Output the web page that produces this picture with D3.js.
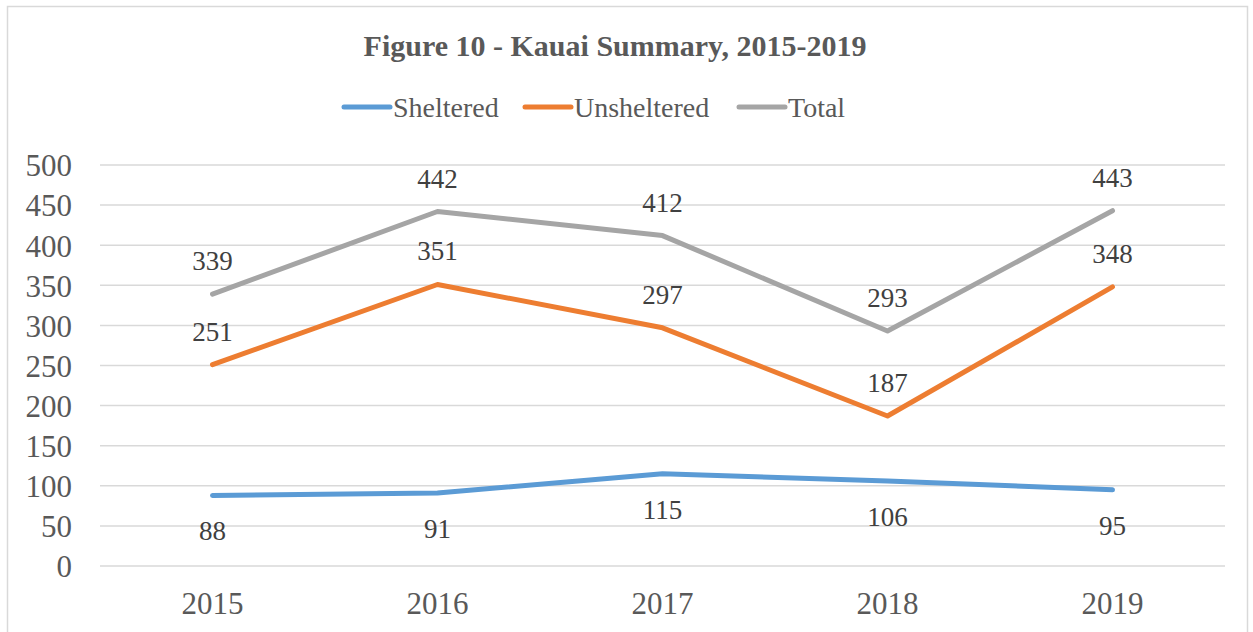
<!DOCTYPE html>
<html>
<head>
<meta charset="utf-8">
<script src="https://cdn.jsdelivr.net/npm/d3@7"></script>
<style>
  body { margin: 0; background: #fff; }
  svg { display: block; font-family: "Liberation Serif", "Times New Roman", serif; }
</style>
</head>
<body>
<div class="container"></div>
<script>
// Data
const years = ["2015", "2016", "2017", "2018", "2019"];
const sheltered = [88, 91, 115, 106, 95];
const unsheltered = [251, 351, 297, 187, 348];
const total = [339, 442, 412, 293, 443];
const yTicks = [0, 50, 100, 150, 200, 250, 300, 350, 400, 450, 500];

const series = [
  { name: "Sheltered", values: sheltered, color: "#5B9BD5", labelPos: "below" },
  { name: "Unsheltered", values: unsheltered, color: "#ED7D31", labelPos: "above" },
  { name: "Total", values: total, color: "#A5A5A5", labelPos: "above" }
];

// Dimensions
const w = 1253;
const h = 632;
const plot = { left: 100, right: 1225, top: 165, bottom: 566 };

const svg = d3.select(".container")
  .append("svg")
  .attr("width", w)
  .attr("height", h);

// Chart frame
svg.append("rect")
  .attr("x", 7.5)
  .attr("y", 6.5)
  .attr("width", 1240)
  .attr("height", 640)
  .attr("fill", "#fff")
  .attr("stroke", "#D9D9D9")
  .attr("stroke-width", 1.5);

// Scales
const xScale = d3.scaleBand()
  .domain(years)
  .range([plot.left, plot.right]);

const yScale = d3.scaleLinear()
  .domain([0, 500])
  .range([plot.bottom, plot.top]);

// Gridlines
svg.append("g")
  .selectAll("line")
  .data(yTicks)
  .enter()
  .append("line")
  .attr("x1", plot.left)
  .attr("x2", plot.right)
  .attr("y1", d => yScale(d))
  .attr("y2", d => yScale(d))
  .attr("stroke", "#D9D9D9")
  .attr("stroke-width", 1.5);

// Y axis
const yAxis = d3.axisLeft(yScale).tickValues(yTicks).tickSize(0).tickPadding(0);
const gy = svg.append("g")
  .attr("transform", `translate(72,0)`)
  .call(yAxis);
gy.select(".domain").remove();
gy.selectAll("text")
  .attr("fill", "#595959")
  .style("font-size", "31px")
  .style("font-family", "Liberation Serif")
  .attr("dy", "0.35em");

// X axis
const xAxis = d3.axisBottom(xScale).tickSize(0).tickPadding(0);
const gx = svg.append("g")
  .attr("transform", `translate(0,${plot.bottom})`)
  .call(xAxis);
gx.select(".domain").remove();
gx.selectAll("text")
  .attr("fill", "#595959")
  .attr("y", 48)
  .attr("dy", 0)
  .style("font-size", "31px")
  .style("font-family", "Liberation Serif");

// Lines
const line = d3.line()
  .x((d, i) => xScale(years[i]) + xScale.bandwidth() / 2)
  .y(d => yScale(d));

svg.append("g")
  .selectAll("path")
  .data(series)
  .enter()
  .append("path")
  .attr("d", d => line(d.values))
  .attr("fill", "none")
  .attr("stroke", d => d.color)
  .attr("stroke-width", 5)
  .attr("stroke-linecap", "round")
  .attr("stroke-linejoin", "round");

// Data labels
series.forEach(s => {
  svg.append("g")
    .selectAll("text")
    .data(s.values)
    .enter()
    .append("text")
    .attr("x", (d, i) => xScale(years[i]) + xScale.bandwidth() / 2)
    .attr("y", d => s.labelPos === "above" ? yScale(d) - 24 : yScale(d) + 45)
    .attr("text-anchor", "middle")
    .attr("fill", "#404040")
    .style("font-size", "27px")
    .text(d => d);
});

// Title
svg.append("text")
  .attr("x", 615)
  .attr("y", 56)
  .attr("text-anchor", "middle")
  .attr("fill", "#595959")
  .style("font-size", "30px")
  .style("font-weight", "bold")
  .text("Figure 10 - Kauai Summary, 2015-2019");

// Legend
const legendX = [344, 525, 739];
const legend = svg.append("g")
  .selectAll("g")
  .data(series)
  .enter()
  .append("g")
  .attr("transform", (d, i) => `translate(${legendX[i]},107)`);

legend.append("line")
  .attr("x1", 0)
  .attr("x2", 46)
  .attr("stroke", d => d.color)
  .attr("stroke-width", 5)
  .attr("stroke-linecap", "round");

legend.append("text")
  .attr("x", 49)
  .attr("y", 10)
  .attr("fill", "#595959")
  .style("font-size", "28px")
  .text(d => d.name);
</script>
</body>
</html>
